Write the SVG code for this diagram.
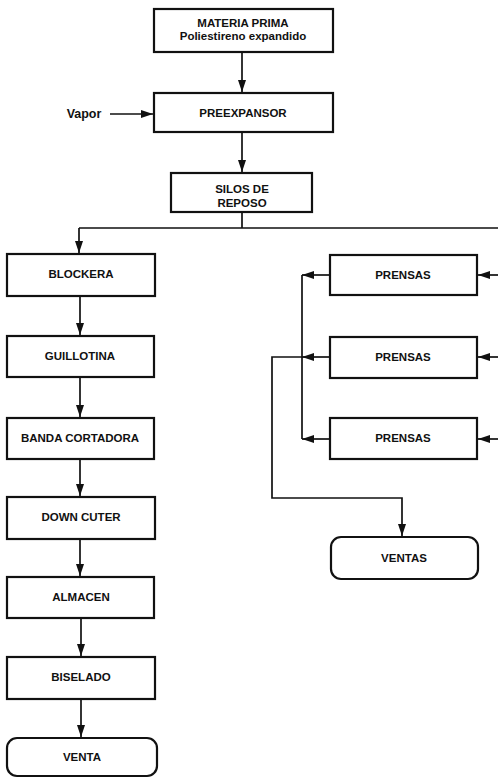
<svg xmlns="http://www.w3.org/2000/svg" width="498" height="778" viewBox="0 0 498 778">
<style>
.box{fill:#fff;stroke:#111;stroke-width:2.2}
.t{font-family:"Liberation Sans",Arial,sans-serif;font-weight:bold;font-size:11.5px;fill:#111;text-anchor:middle}
.ln{fill:none;stroke:#111;stroke-width:1.7}
</style>
<defs>
<marker id="ah" viewBox="0 0 12 8" refX="12" refY="4" markerWidth="12" markerHeight="8" orient="auto" markerUnits="userSpaceOnUse"><path d="M0,0 L12,4 L0,8 z" fill="#111"/></marker>
</defs>
<rect width="498" height="778" fill="#fff"/>
<g id="connectors">
<path class="ln" d="M242,52 V92" marker-end="url(#ah)"/>
<path class="ln" d="M110,114 H153" marker-end="url(#ah)"/>
<path class="ln" d="M242,132 V172" marker-end="url(#ah)"/>
<path class="ln" d="M242,212 V228 M79,228 H498"/>
<path class="ln" d="M79,228 V253" marker-end="url(#ah)"/>
<path class="ln" d="M80,296 V335" marker-end="url(#ah)"/>
<path class="ln" d="M80,377 V417" marker-end="url(#ah)"/>
<path class="ln" d="M80,459 V496" marker-end="url(#ah)"/>
<path class="ln" d="M80,539 V576" marker-end="url(#ah)"/>
<path class="ln" d="M81,618 V656" marker-end="url(#ah)"/>
<path class="ln" d="M81,699 V737" marker-end="url(#ah)"/>
<path class="ln" d="M498,275 H478" marker-end="url(#ah)"/>
<path class="ln" d="M498,357 H478" marker-end="url(#ah)"/>
<path class="ln" d="M498,439 H478" marker-end="url(#ah)"/>
<path class="ln" d="M330,275 H302" marker-end="url(#ah)"/>
<path class="ln" d="M330,357 H302" marker-end="url(#ah)"/>
<path class="ln" d="M330,439 H302" marker-end="url(#ah)"/>
<path class="ln" d="M302,275 V439"/>
<path class="ln" d="M302,357 H272 V498 H402 V536" marker-end="url(#ah)"/>
</g>
<text class="t" x="84" y="118" style="font-size:12.5px">Vapor</text>
<g id="materia"><rect class="box" x="154" y="9" width="179" height="43"/><text class="t" x="243" y="27">MATERIA PRIMA</text><text class="t" x="243" y="40">Poliestireno expandido</text></g>
<g id="preexpansor"><rect class="box" x="154" y="93" width="179" height="39"/><text class="t" x="243" y="117">PREEXPANSOR</text></g>
<g id="silos"><rect class="box" x="171" y="173" width="141" height="39"/><text class="t" x="242" y="193">SILOS DE</text><text class="t" x="242" y="207">REPOSO</text></g>
<g id="blockera"><rect class="box" x="7" y="254" width="148" height="42"/><text class="t" x="81" y="278">BLOCKERA</text></g>
<g id="guillotina"><rect class="box" x="7" y="336" width="147" height="41"/><text class="t" x="80" y="360">GUILLOTINA</text></g>
<g id="banda"><rect class="box" x="7" y="418" width="147" height="41"/><text class="t" x="80" y="442">BANDA CORTADORA</text></g>
<g id="downcuter"><rect class="box" x="7" y="497" width="148" height="42"/><text class="t" x="81" y="521">DOWN CUTER</text></g>
<g id="almacen"><rect class="box" x="7" y="577" width="147" height="41"/><text class="t" x="81" y="601">ALMACEN</text></g>
<g id="biselado"><rect class="box" x="7" y="657" width="148" height="42"/><text class="t" x="81" y="681">BISELADO</text></g>
<g id="venta"><rect class="box" x="7" y="738" width="150" height="38" rx="10"/><text class="t" x="82" y="761">VENTA</text></g>
<g id="prensas1"><rect class="box" x="330" y="255" width="147" height="40"/><text class="t" x="403" y="279">PRENSAS</text></g>
<g id="prensas2"><rect class="box" x="330" y="337" width="147" height="41"/><text class="t" x="403" y="361">PRENSAS</text></g>
<g id="prensas3"><rect class="box" x="330" y="418" width="147" height="41"/><text class="t" x="403" y="442">PRENSAS</text></g>
<g id="ventas"><rect class="box" x="331" y="537" width="147" height="42" rx="10"/><text class="t" x="404" y="562">VENTAS</text></g>
</svg>
